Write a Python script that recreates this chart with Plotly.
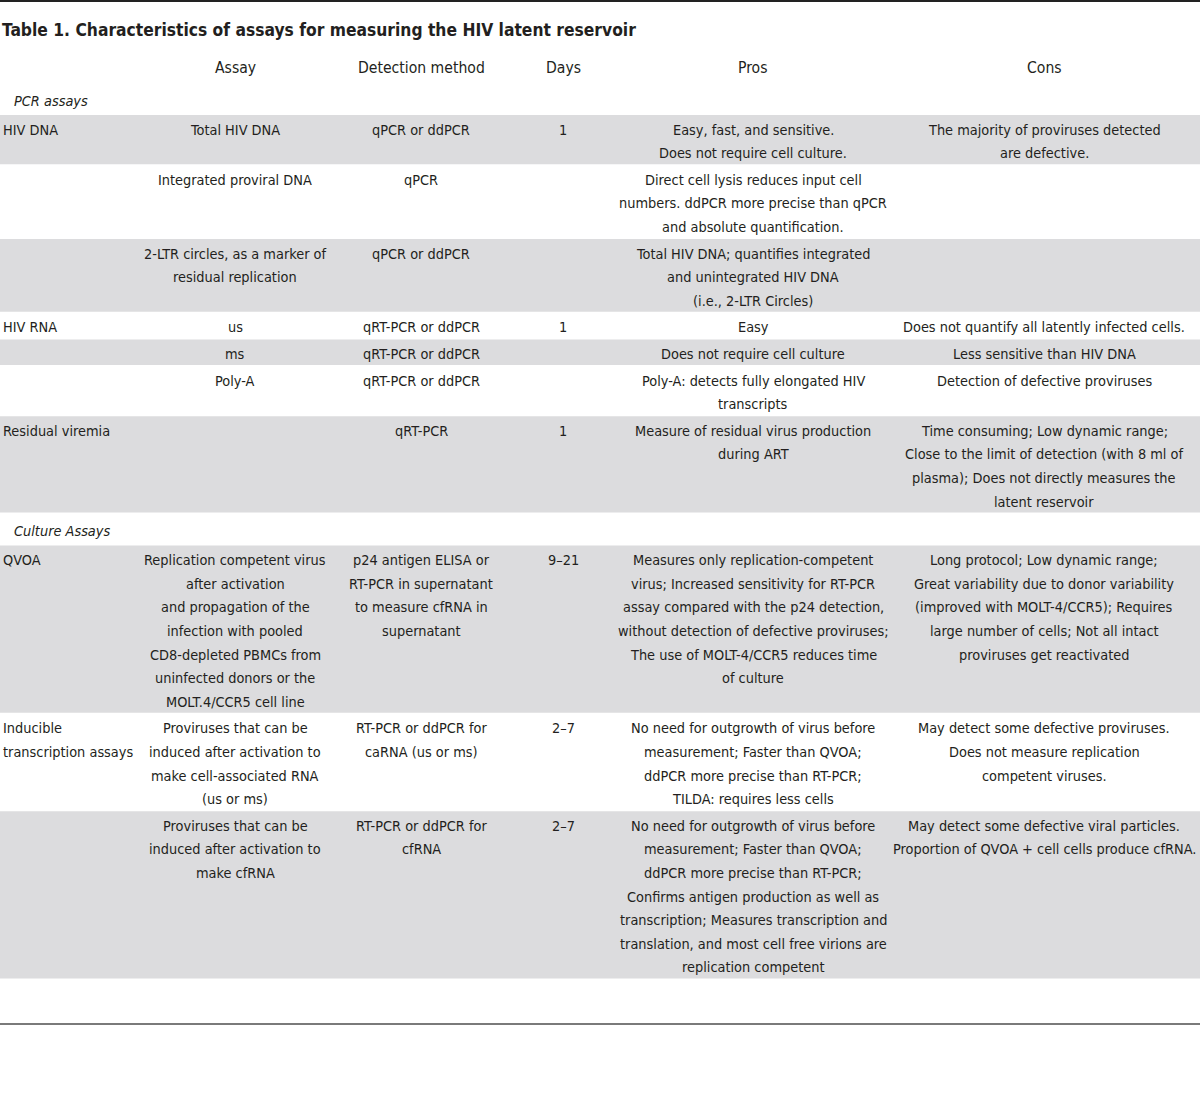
import plotly.graph_objects as go

title = "Table 1. Characteristics of assays for measuring the HIV latent reservoir"
headers = ["", "Assay", "Detection method", "Days", "Pros", "Cons"]
sections = ["PCR assays", "Culture Assays"]
row_section = [0, 0, 0, 0, 0, 0, 0, 1, 1, 1]

categories = [
    ["HIV DNA"], [""], [""], ["HIV RNA"], [""], [""], ["Residual viremia"],
    ["QVOA"], ["Inducible", "transcription assays"], [""],
]
assay = [
    ["Total HIV DNA"],
    ["Integrated proviral DNA"],
    ["2-LTR circles, as a marker of", "residual replication"],
    ["us"],
    ["ms"],
    ["Poly-A"],
    [""],
    ["Replication competent virus", "after activation", "and propagation of the",
     "infection with pooled", "CD8-depleted PBMCs from", "uninfected donors or the",
     "MOLT.4/CCR5 cell line"],
    ["Proviruses that can be", "induced after activation to",
     "make cell-associated RNA", "(us or ms)"],
    ["Proviruses that can be", "induced after activation to", "make cfRNA"],
]
detection = [
    ["qPCR or ddPCR"],
    ["qPCR"],
    ["qPCR or ddPCR"],
    ["qRT-PCR or ddPCR"],
    ["qRT-PCR or ddPCR"],
    ["qRT-PCR or ddPCR"],
    ["qRT-PCR"],
    ["p24 antigen ELISA or", "RT-PCR in supernatant", "to measure cfRNA in", "supernatant"],
    ["RT-PCR or ddPCR for", "caRNA (us or ms)"],
    ["RT-PCR or ddPCR for", "cfRNA"],
]
days = [["1"], [""], [""], ["1"], [""], [""], ["1"], ["9–21"], ["2–7"], ["2–7"]]
pros = [
    ["Easy, fast, and sensitive.", "Does not require cell culture."],
    ["Direct cell lysis reduces input cell", "numbers. ddPCR more precise than qPCR",
     "and absolute quantification."],
    ["Total HIV DNA; quantifies integrated", "and unintegrated HIV DNA",
     "(i.e., 2-LTR Circles)"],
    ["Easy"],
    ["Does not require cell culture"],
    ["Poly-A: detects fully elongated HIV", "transcripts"],
    ["Measure of residual virus production", "during ART"],
    ["Measures only replication-competent", "virus; Increased sensitivity for RT-PCR",
     "assay compared with the p24 detection,", "without detection of defective proviruses;",
     "The use of MOLT-4/CCR5 reduces time", "of culture"],
    ["No need for outgrowth of virus before", "measurement; Faster than QVOA;",
     "ddPCR more precise than RT-PCR;", "TILDA: requires less cells"],
    ["No need for outgrowth of virus before", "measurement; Faster than QVOA;",
     "ddPCR more precise than RT-PCR;", "Confirms antigen production as well as",
     "transcription; Measures transcription and", "translation, and most cell free virions are",
     "replication competent"],
]
cons = [
    ["The majority of proviruses detected", "are defective."],
    [""],
    [""],
    ["Does not quantify all latently infected cells."],
    ["Less sensitive than HIV DNA"],
    ["Detection of defective proviruses"],
    ["Time consuming; Low dynamic range;", "Close to the limit of detection (with 8 ml of",
     "plasma); Does not directly measures the", "latent reservoir"],
    ["Long protocol; Low dynamic range;", "Great variability due to donor variability",
     "(improved with MOLT-4/CCR5); Requires", "large number of cells; Not all intact",
     "proviruses get reactivated"],
    ["May detect some defective proviruses.", "Does not measure replication",
     "competent viruses."],
    ["May detect some defective viral particles.",
     "Proportion of QVOA + cell cells produce cfRNA."],
]

# ---- layout / style ----
W, H = 1200, 1107
FONT = "DejaVu Sans Condensed, Liberation Sans Narrow, Arial Narrow, sans-serif"
TXT = "#231f20"
GRAY = "#dcdcde"
FS = 14.4
LH = 23.6
col_x = [1, 235, 421, 563, 753, 1044]
columns = [categories, assay, detection, days, pros, cons]

fig = go.Figure()
shapes = []
ann = []


def add_text(x, y, s, anchor="center", size=FS, bold=False, italic=False):
    if s == "":
        return
    ann.append(dict(
        x=x, y=y, xref="x", yref="y", text=("<b>%s</b>" % s) if bold else s,
        showarrow=False, xanchor=anchor, yanchor="middle",
        font=dict(family=FONT, size=size, color=TXT,
                  style="italic" if italic else "normal"),
    ))


# top and bottom rules
shapes.append(dict(type="line", xref="x", yref="y", x0=0, x1=W, y0=1, y1=1,
                   line=dict(color="#222222", width=2)))
shapes.append(dict(type="line", xref="x", yref="y", x0=0, x1=W, y0=1024, y1=1024,
                   line=dict(color="#7a7a7a", width=2)))

add_text(0, 30, title, anchor="left", size=17.3, bold=True)
for ci, h in enumerate(headers):
    if h:
        add_text(col_x[ci], 68, h, size=FS + 1.2)

y = 88
prev_sec = None
k = 0
for r in range(len(assay)):
    sec = row_section[r]
    if sec != prev_sec:
        add_text(12, y + 13 if sec == 0 else y + 17, sections[sec], anchor="left", italic=True)
        y += 27 if sec == 0 else 32
        prev_sec = sec
        k = 0
    n = max(len(c[r]) for c in columns)
    h = n * LH + 3
    if k % 2 == 0:
        shapes.append(dict(type="rect", xref="x", yref="y", x0=0, x1=W, y0=y, y1=y + h - 1,
                           fillcolor=GRAY, line=dict(width=0), layer="below"))
    for ci, col in enumerate(columns):
        for li, s in enumerate(col[r]):
            add_text(col_x[ci], y + 14.5 + li * LH, s,
                     anchor="left" if ci == 0 else "center")
    y += h
    k += 1

fig.update_layout(
    width=W, height=H, margin=dict(l=0, r=0, t=0, b=0),
    paper_bgcolor="white", plot_bgcolor="white",
    xaxis=dict(range=[0, W], visible=False, fixedrange=True),
    yaxis=dict(range=[H, 0], visible=False, fixedrange=True),
    shapes=shapes, annotations=ann, showlegend=False,
)
fig.write_html(
    "out.html",
    config={"displayModeBar": False, "staticPlot": True},
    post_script="document.body.style.margin='0';document.body.style.overflow='hidden';",
)
